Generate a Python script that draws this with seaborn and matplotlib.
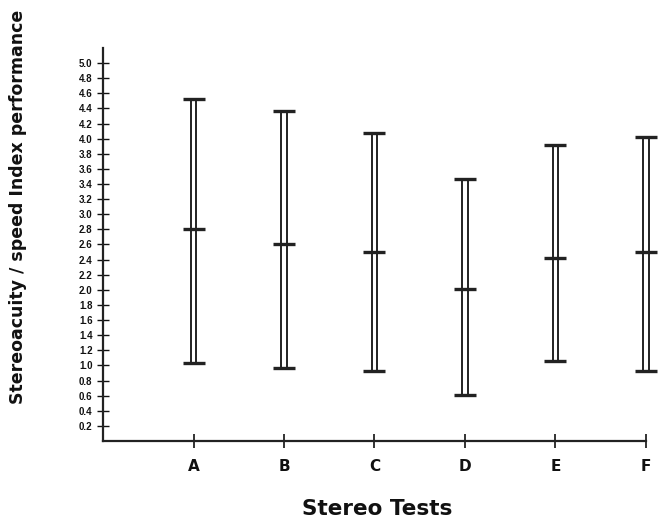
import matplotlib
matplotlib.use("Agg")
import matplotlib.pyplot as plt
import seaborn as sns
import numpy as np
import pandas as pd

tests = ["A", "B", "C", "D", "E", "F"]
means = [2.80, 2.61, 2.50, 2.01, 2.42, 2.50]
lows = [1.03, 0.96, 0.93, 0.61, 1.06, 0.92]
highs = [4.52, 4.36, 4.08, 3.46, 3.92, 4.02]
ytick_vals = [0.2, 0.4, 0.6, 0.8, 1.0, 1.2, 1.4, 1.6, 1.8, 2.0, 2.2, 2.4,
              2.6, 2.8, 3.0, 3.2, 3.4, 3.6, 3.8, 4.0, 4.2, 4.4, 4.6, 4.8, 5.0]

df = pd.DataFrame({"test": tests, "mean": means, "low": lows, "high": highs})

sns.set_style("ticks", {"text.color": "#111111", "xtick.color": "#111111",
                        "ytick.color": "#111111", "axes.edgecolor": "#111111"})
plt.rcParams['font.family'] = ['Liberation Sans', 'DejaVu Sans']

fig = plt.figure(figsize=(6.62, 5.20), dpi=100)
ax = fig.add_axes([0.1556, 0.152, 0.8202, 0.7557])

x = np.arange(len(tests))
# hollow narrow bars spanning low-high
bars = ax.bar(x, df["high"] - df["low"], bottom=df["low"], width=0.065,
              color="white", edgecolor="#222222", linewidth=1.4, zorder=2)
for b in bars:
    b.set_clip_on(False)
# caps at low, high and mean
for col in ["low", "high", "mean"]:
    sns.scatterplot(x=x, y=df[col], marker="_", s=260, linewidth=2.4,
                    color="#222222", ax=ax, zorder=3, legend=False,
                    clip_on=False)

ax.set_xlim(-1, 5)
ax.set_ylim(0, 5.2)
ax.set_xticks(x)
ax.set_xticklabels(tests, fontsize=11, fontweight="bold",
                   family=["DejaVu Sans"])
ax.set_yticks(ytick_vals)
ax.set_yticklabels([f"{v:.1f}" for v in ytick_vals], fontsize=7, fontweight="bold")
ax.tick_params(axis="y", direction="inout", length=9, width=1, pad=3,
               labelcolor="#111111")
ax.tick_params(axis="x", direction="inout", length=10, width=1.2, pad=8,
               labelcolor="#111111")

for s in ["top", "right"]:
    ax.spines[s].set_visible(False)
for s in ["left", "bottom"]:
    ax.spines[s].set_linewidth(1.6)
    ax.spines[s].set_color("#222222")

ax.set_xlabel("")
ax.set_ylabel("")
fig.text(377 / 662, 1 - 509 / 520, "Stereo Tests", fontsize=15.5,
         fontweight="bold", family=["DejaVu Sans"], ha="center", va="center",
         color="#111111")
fig.text(18 / 662, 1 - 207 / 520, "Stereoacuity / speed Index performance",
         fontsize=12.5, fontweight="bold", family=["DejaVu Sans"],
         rotation=90, ha="center", va="center", color="#111111")

fig.savefig("out.png", dpi=100, facecolor="white")
